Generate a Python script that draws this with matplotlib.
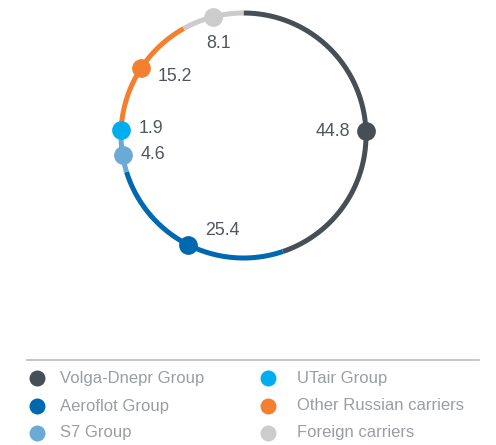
import numpy as np
import matplotlib.pyplot as plt

carriers = ["Volga-Dnepr Group", "Aeroflot Group", "S7 Group",
            "UTair Group", "Other Russian carriers", "Foreign carriers"]
shares = [44.8, 25.4, 4.6, 1.9, 15.2, 8.1]
colors = ["#474f56", "#0067b1", "#6aaad6", "#00aeef", "#f28030", "#cccccc"]

# where the dot sits inside each arc (0 = start, 1 = end), and label offsets in px
dot_pos = [0.545, 0.5, 0.5, 0.5, 0.5, 0.5]
label_off = [(-16, 0, "right"), (17, -14, "left"), (18, 0, "left"),
             (17, -1, "left"), (16, 9, "left"), (-6, 27, "left")]

cx, cy, r = 243.5, 135.5, 122.5

fig = plt.figure(figsize=(4.96, 4.45), dpi=100)
ax = fig.add_axes([0, 0, 1, 1])
ax.set_xlim(0, 496)
ax.set_ylim(445, 0)
ax.axis("off")

font = "Liberation Sans"
start = 90.0
for i, s in enumerate(shares):
    sweep = s / sum(shares) * 360
    ang = np.radians(np.linspace(start, start - sweep, 100))
    ax.plot(cx + r * np.cos(ang), cy - r * np.sin(ang), color=colors[i],
            lw=3.6, solid_capstyle="butt", zorder=2)
    a = np.radians(start - sweep * dot_pos[i])
    mx, my = cx + r * np.cos(a), cy - r * np.sin(a)
    ax.plot(mx, my, "o", ms=13.5, color=colors[i], mec="none", zorder=3)
    dx, dy, ha = label_off[i]
    ax.text(mx + dx, my + dy, f"{s:.1f}", ha=ha, va="center", fontsize=12.8,
            color="#50565b", family=font)
    start -= sweep

# legend
ax.plot([27, 479], [360, 360], color="#b9bdc1", lw=1.2)
rows = [378, 406, 433]
dot_x = [37, 268]
text_x = [60, 297]
for i, name in enumerate(carriers):
    col, row = divmod(i, 3)
    ax.plot(dot_x[col], rows[row], "o", ms=11.5, color=colors[i], mec="none")
    ax.text(text_x[col], rows[row], name, ha="left", va="center", fontsize=12,
            color="#9a9ea3", family=font)

fig.savefig("out.png", dpi=100)
